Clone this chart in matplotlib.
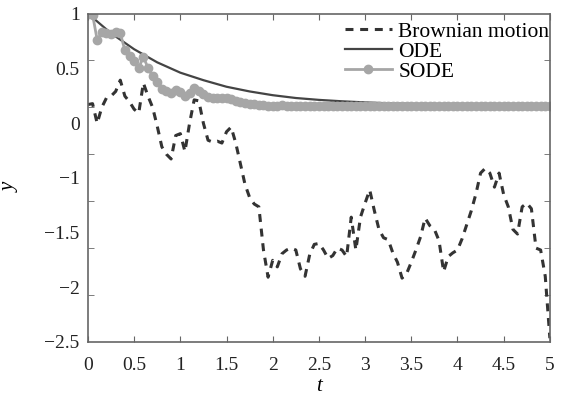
import numpy as np
import matplotlib.pyplot as plt

plt.rcParams["font.family"] = ["Liberation Serif", "DejaVu Serif"]

# time grid of the simulation (dt = 0.05)
t = np.arange(101) * 0.05

brownian = [
    0.03, 0.04, -0.17, 0.00, 0.10, 0.12, 0.17, 0.29, 0.12, 0.06,
    -0.02, -0.06, 0.26, 0.12, 0.00, -0.20, -0.42, -0.50, -0.55, -0.30,
    -0.28, -0.47, -0.17, 0.08, 0.07, -0.17, -0.35, -0.37, -0.36, -0.38,
    -0.26, -0.21, -0.38, -0.60, -0.82, -0.96, -1.03, -1.06, -1.52, -1.81,
    -1.63, -1.70, -1.56, -1.52, -1.50, -1.52, -1.72, -1.80, -1.57, -1.46,
    -1.45, -1.52, -1.61, -1.58, -1.50, -1.52, -1.59, -1.17, -1.52, -1.17,
    -1.02, -0.88, -1.10, -1.30, -1.39, -1.41, -1.55, -1.65, -1.82, -1.77,
    -1.65, -1.52, -1.38, -1.18, -1.26, -1.30, -1.42, -1.75, -1.59, -1.55,
    -1.52, -1.40, -1.25, -1.10, -0.92, -0.70, -0.65, -0.70, -0.85, -0.70,
    -0.93, -1.06, -1.30, -1.35, -1.06, -1.02, -1.08, -1.50, -1.52, -1.80,
    -2.46,
]

sode = [
    1.00, 0.99, 0.72, 0.80, 0.79, 0.78, 0.80, 0.79, 0.61, 0.55,
    0.49, 0.42, 0.54, 0.42, 0.33, 0.27, 0.20, 0.17, 0.15, 0.19,
    0.16, 0.12, 0.15, 0.21, 0.18, 0.14, 0.11, 0.10, 0.10, 0.10,
    0.10, 0.09, 0.07, 0.06, 0.05, 0.04, 0.035, 0.03, 0.025, 0.02,
    0.02, 0.02, 0.025, 0.02, 0.02, 0.02, 0.02, 0.02, 0.02, 0.02,
    0.02, 0.02, 0.02, 0.02, 0.02, 0.02, 0.02, 0.02, 0.02, 0.02,
    0.02, 0.02, 0.02, 0.02, 0.02, 0.02, 0.02, 0.02, 0.02, 0.02,
    0.02, 0.02, 0.02, 0.02, 0.02, 0.02, 0.02, 0.02, 0.02, 0.02,
    0.02, 0.02, 0.02, 0.02, 0.02, 0.02, 0.02, 0.02, 0.02, 0.02,
    0.02, 0.02, 0.02, 0.02, 0.02, 0.02, 0.02, 0.02, 0.02, 0.02,
    0.02,
]

ode_t = np.arange(21) * 0.25
ode = [
    1.00, 0.79, 0.62, 0.48, 0.37, 0.29, 0.22, 0.17, 0.13, 0.10,
    0.08, 0.065, 0.053, 0.044, 0.037, 0.032, 0.028, 0.025, 0.022, 0.020,
    0.019,
]

x_ticks = [0, 0.5, 1, 1.5, 2, 2.5, 3, 3.5, 4, 4.5, 5]
x_ticklabels = ["0", "0.5", "1", "1.5", "2", "2.5", "3", "3.5", "4", "4.5", "5"]
y_ticks = [-2.5, -2, -1.5, -1, -0.5, 0, 0.5, 1]
y_ticklabels = ["1", "0.5", "0", "\u22121", "\u22121.5", "\u22122", "\u22122.5"]

fig = plt.figure(figsize=(5.71, 3.99), dpi=100)
ax = fig.add_axes([0.154, 0.143, 0.809, 0.823])

ax.plot(t, brownian, "--", color="#333333", lw=2.2, dashes=(2.6, 2.2),
        label="Brownian motion")
ax.plot(ode_t, ode, "-", color="#444444", lw=1.6, label="ODE")
ax.plot(t, sode, "-o", color="#a6a6a6", lw=2, ms=6, label="SODE")

ax.set_xlim(0, 5)
ax.set_ylim(-2.5, 1)

ax.set_xticks(x_ticks)
ax.set_xticklabels(x_ticklabels)

# tick marks sit every 0.5, labels are spread evenly as in the original figure
ax.set_yticks(y_ticks, minor=True)
ax.set_yticks(np.linspace(1, -2.5, len(y_ticklabels)))
ax.set_yticklabels(y_ticklabels)
ax.tick_params(axis="y", which="major", length=0, pad=6)
ax.tick_params(axis="y", which="minor", direction="in", length=4,
               right=True, color="#666666")
ax.tick_params(axis="x", direction="in", length=4, top=True, pad=11,
               color="#666666")
ax.tick_params(labelsize=14, labelcolor="#222222")

for sp in ax.spines.values():
    sp.set_color("#666666")
    sp.set_linewidth(1.2)

ax.set_xlabel("t", fontsize=15, style="italic", labelpad=2)
ax.set_ylabel("y", fontsize=15, style="italic")
ax.yaxis.set_label_coords(-0.147, 0.47)

ax.legend(loc="upper left", bbox_to_anchor=(0.556, 0.975), frameon=False,
          fontsize=15.5, handlelength=2.2, handletextpad=0.28,
          labelspacing=0.0, borderaxespad=0.0, borderpad=0.0)

fig.savefig("out.png", dpi=100)
